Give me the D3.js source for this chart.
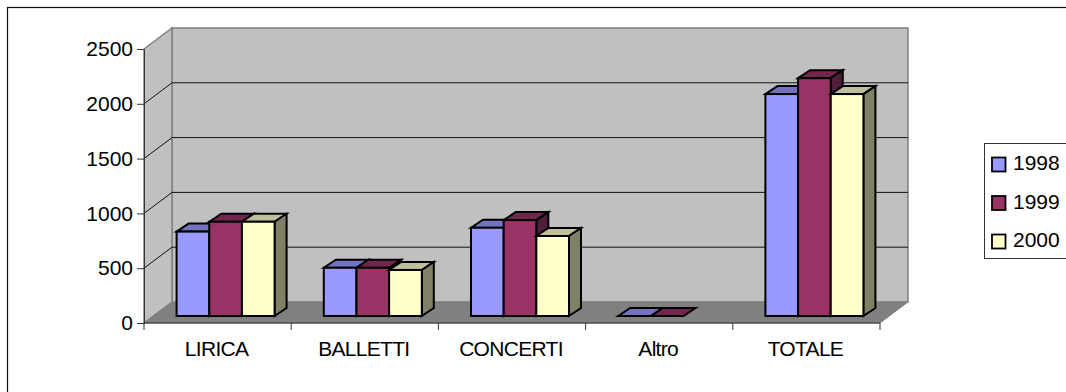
<!DOCTYPE html>
<html><head><meta charset="utf-8">
<script src="https://cdn.jsdelivr.net/npm/d3@7/dist/d3.min.js"></script>
<style>html,body{margin:0;padding:0;background:#fff}svg{display:block}text{font-family:"Liberation Sans",Arial,sans-serif;fill:#000}</style>
</head><body><svg id="chart" width="1066" height="392"></svg>
<script>
const categories = ["LIRICA", "BALLETTI", "CONCERTI", "Altro", "TOTALE"];
const seriesNames = ["1998", "1999", "2000"];
const values1998 = [770, 440, 805, 0, 2025];
const values1999 = [860, 440, 875, 0, 2170];
const values2000 = [860, 420, 730, null, 2025];
const yTicks = [0, 500, 1000, 1500, 2000, 2500];
const faceColors = ["#9999ff", "#993366", "#ffffcc"];
const topColors = ["#7373bf", "#73264d", "#bfbf99"];
const sideColors = ["#50508a", "#4f1f3a", "#808066"];

const series = [values1998, values1999, values2000];
const svg = d3.select("#chart");

// Front plane of the box; depth offsets the walls and floor behind it.
const x = d3.scaleBand().domain(categories).range([144, 880]);
const y = d3.scaleLinear().domain([0, 2500]).range([323, 49]);
const depth = { x: 28, y: -21 };
const barInset = { x: 8, y: -7 };
const barDepth = { x: 12, y: -8 };
const barX = d3.scaleBand().domain(seriesNames).range([0, 98]);

const poly = pts => pts.map(p => p.join(",")).join(" ");

// Outer frame runs off the right and bottom of the page
svg.append("rect").attr("x", 7.5).attr("y", 7.5).attr("width", 1070).attr("height", 400)
  .attr("fill", "#fff").attr("stroke", "#111").attr("stroke-width", 1.2);

// Box walls and floor
const [x0, x1] = x.range();
const yb = y(0), yt = y(2500);
const dx = depth.x, dy = depth.y;
svg.append("polygon").attr("points", poly([[x0 + dx, yt + dy], [x1 + dx, yt + dy], [x1 + dx, yb + dy], [x0 + dx, yb + dy]]))
  .attr("fill", "#c0c0c0").attr("stroke", "#808080").attr("stroke-width", 1.5);
svg.append("polygon").attr("points", poly([[x0, yt], [x0 + dx, yt + dy], [x0 + dx, yb + dy], [x0, yb]]))
  .attr("fill", "#c0c0c0").attr("stroke", "#808080").attr("stroke-width", 1.5);
svg.append("polygon").attr("points", poly([[x0, yb], [x0 + dx, yb + dy], [x1 + dx, yb + dy], [x1, yb]]))
  .attr("fill", "#808080").attr("stroke", "#808080");

// Gridlines run along the side wall and across the back wall
svg.append("g").selectAll("polyline").data(yTicks.filter(t => t > 0 && t < 2500)).join("polyline")
  .attr("points", t => poly([[x0, y(t)], [x0 + dx, y(t) + dy], [x1 + dx, y(t) + dy]]))
  .attr("fill", "none").attr("stroke", "#111").attr("stroke-width", 1);

// Bars, painted left to right so each front covers its neighbour's side
const bars = svg.append("g").attr("stroke", "#000").attr("stroke-width", 2).attr("stroke-linejoin", "miter");
categories.forEach((cat, i) => {
  seriesNames.forEach((name, s) => {
    const v = series[s][i];
    if (v === null) return;
    const left = x(cat) + (x.bandwidth() - barX.range()[1]) / 2 + barInset.x + barX(name);
    const right = left + barX.bandwidth();
    const top = y(v) + barInset.y;
    const base = y(0) + barInset.y;
    const g = bars.append("g");
    g.append("polygon").attr("fill", topColors[s])
      .attr("points", poly([[left, top], [left + barDepth.x, top + barDepth.y], [right + barDepth.x, top + barDepth.y], [right, top]]));
    if (v > 0) {
      g.append("polygon").attr("fill", sideColors[s])
        .attr("points", poly([[right, top], [right + barDepth.x, top + barDepth.y], [right + barDepth.x, base + barDepth.y], [right, base]]));
      g.append("rect").attr("x", left).attr("y", top).attr("width", right - left).attr("height", base - top)
        .attr("fill", faceColors[s]);
    }
  });
});

// Value axis
const yAxis = svg.append("g").attr("transform", `translate(${x0},0)`)
  .call(d3.axisLeft(y).tickValues(yTicks).tickSize(7).tickPadding(4).tickFormat(d3.format("d")));
yAxis.selectAll("text").attr("font-size", 21).style("font-family", '"Liberation Sans",Arial,sans-serif');
yAxis.selectAll("line,path").attr("stroke", "#333");

// Category axis: ticks fall on the band edges
const xAxis = svg.append("g").attr("transform", `translate(0,${yb})`);
xAxis.append("line").attr("x1", x0).attr("x2", x1).attr("stroke", "#333");
xAxis.selectAll("line.t").data(d3.range(categories.length + 1)).join("line").attr("class", "t")
  .attr("x1", i => x0 + i * x.bandwidth()).attr("x2", i => x0 + i * x.bandwidth())
  .attr("y1", 0).attr("y2", 7).attr("stroke", "#333");
xAxis.selectAll("text").data(categories).join("text")
  .attr("x", d => x(d) + x.bandwidth() / 2 - 1).attr("y", 33).attr("text-anchor", "middle")
  .attr("font-size", 21).attr("letter-spacing", -0.7).text(d => d);

// Legend, open to the page edge on the right
const legend = svg.append("g");
legend.append("rect").attr("x", 984.5).attr("y", 143.5).attr("width", 90).attr("height", 115)
  .attr("fill", "#fff").attr("stroke", "#333");
const ly = d3.scalePoint().domain(seriesNames).range([164, 241]);
seriesNames.forEach((name, s) => {
  legend.append("rect").attr("x", 992).attr("y", ly(name) - 6.5).attr("width", 13.5).attr("height", 14)
    .attr("fill", faceColors[s]).attr("stroke", "#000").attr("stroke-width", 1.8);
  legend.append("text").attr("x", 1013).attr("y", ly(name) + 6).attr("font-size", 21).text(name);
});
</script></body></html>
